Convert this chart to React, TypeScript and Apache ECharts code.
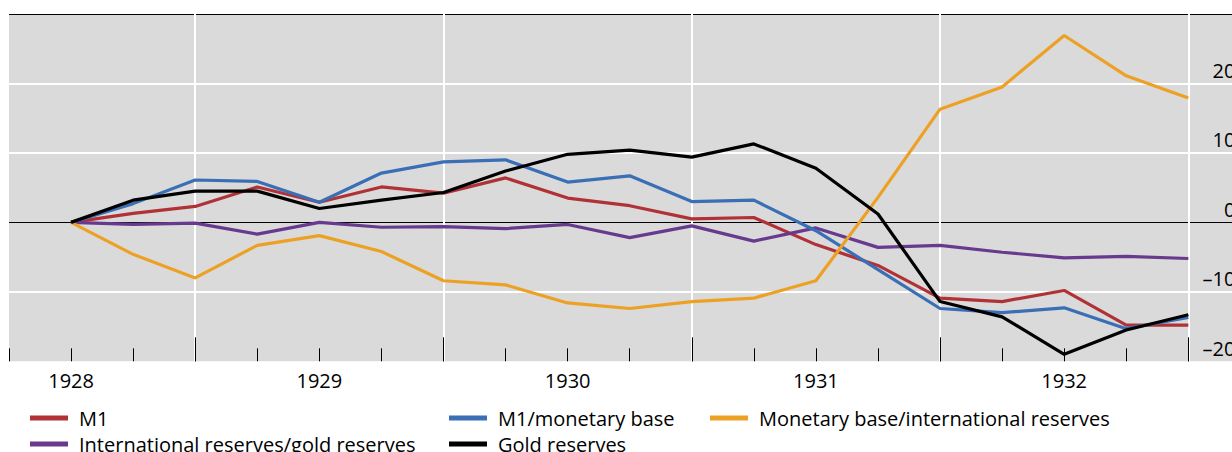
import React, { useEffect, useRef } from "react";
import * as echarts from "echarts";

const quarters = [
  "1927 Q4",
  "1928 Q1", "1928 Q2", "1928 Q3", "1928 Q4",
  "1929 Q1", "1929 Q2", "1929 Q3", "1929 Q4",
  "1930 Q1", "1930 Q2", "1930 Q3", "1930 Q4",
  "1931 Q1", "1931 Q2", "1931 Q3", "1931 Q4",
  "1932 Q1", "1932 Q2", "1932 Q3", "1932 Q4",
];

const m1 = [0, 1.3, 2.3, 5.1, 2.9, 5.1, 4.2, 6.4, 3.5, 2.4, 0.5, 0.7, -3.2, -6.2, -10.9, -11.4, -9.8, -14.8, -14.8];
const m1MonetaryBase = [0, 2.7, 6.1, 5.9, 2.9, 7.1, 8.7, 9.0, 5.8, 6.7, 3.0, 3.2, -1.2, -6.8, -12.4, -13.0, -12.3, -15.3, -13.7];
const monetaryBaseIntlReserves = [0, -4.6, -8.0, -3.3, -1.9, -4.2, -8.4, -9.0, -11.6, -12.4, -11.4, -10.9, -8.4, 3.6, 16.3, 19.5, 26.9, 21.1, 17.9];
const intlReservesGoldReserves = [0, -0.3, -0.1, -1.7, 0, -0.7, -0.6, -0.9, -0.3, -2.2, -0.5, -2.7, -0.8, -3.6, -3.3, -4.3, -5.1, -4.9, -5.2];
const goldReserves = [0, 3.2, 4.5, 4.5, 2.0, 3.2, 4.3, 7.4, 9.8, 10.4, 9.4, 11.3, 7.8, 1.2, -11.4, -13.6, -19.0, -15.5, -13.3];

const yTicks = [-20, -10, 0, 10, 20, 30];

const FONT = "'Open Sans', 'Noto Sans', sans-serif";

const seriesDefs = [
  { name: "M1", data: m1, color: "#B03236" },
  { name: "International reserves/gold reserves", data: intlReservesGoldReserves, color: "#673A8E" },
  { name: "M1/monetary base", data: m1MonetaryBase, color: "#3A6EB5" },
  { name: "Monetary base/international reserves", data: monetaryBaseIntlReserves, color: "#EDA124" },
  { name: "Gold reserves", data: goldReserves, color: "#000000" },
];

const legendPlacement: Record<string, { left: number; top: number }> = {
  "M1": { left: 30, top: 408 },
  "M1/monetary base": { left: 449, top: 408 },
  "Monetary base/international reserves": { left: 710, top: 408 },
  "International reserves/gold reserves": { left: 30, top: 434 },
  "Gold reserves": { left: 449, top: 434 },
};

const CHART_W = 1262;

export default function App() {
  const ref = useRef<HTMLDivElement>(null);

  useEffect(() => {
    if (!ref.current) return;
    const chart = echarts.init(ref.current, null, { renderer: "svg" });
    const pad = (arr: number[]) => [null, ...arr, null];

    const option: any = {
      animation: false,
      backgroundColor: "#ffffff",
      grid: {
        left: 9,
        top: 14,
        right: CHART_W - 1250.4,
        bottom: 452 - 361.3,
        show: true,
        backgroundColor: "#DADADA",
        borderWidth: 0,
      },
      legend: seriesDefs.map((s) => ({
        data: [s.name],
        left: legendPlacement[s.name].left,
        top: legendPlacement[s.name].top,
        padding: 0,
        icon: "rect",
        itemWidth: 38,
        itemHeight: 5,
        selectedMode: false,
        textStyle: { fontSize: 20, color: "#000", fontFamily: FONT, padding: [0, 0, 0, 6] },
      })),
      xAxis: [
        {
          type: "category",
          data: quarters,
          boundaryGap: false,
          position: "bottom",
          axisLine: { show: false, onZero: false },
          axisTick: { show: true, inside: true, length: 13, interval: 0, lineStyle: { color: "#000", width: 1 } },
          axisLabel: {
            show: true,
            interval: (idx: number) => idx % 4 === 1,
            formatter: (v: string) => v.slice(0, 4),
            fontSize: 20,
            color: "#000",
            fontFamily: FONT,
            margin: 9,
          },
          splitLine: { show: false },
        },
        {
          type: "category",
          data: quarters,
          boundaryGap: false,
          position: "bottom",
          axisLine: { show: false, onZero: false },
          axisTick: {
            show: true,
            inside: true,
            length: 24,
            interval: (idx: number) => idx % 4 === 3,
            lineStyle: { color: "#000", width: 1 },
          },
          axisLabel: { show: false },
          splitLine: {
            show: true,
            interval: (idx: number) => idx % 4 === 3,
            lineStyle: { color: "#ffffff", width: 2 },
          },
        },
      ],
      yAxis: [
        {
          type: "value",
          position: "right",
          min: yTicks[0],
          max: yTicks[yTicks.length - 1],
          interval: 10,
          axisLine: { show: false, onZero: false },
          axisTick: { show: false },
          axisLabel: {
            inside: true,
            margin: 15,
            fontSize: 20,
            color: "#000",
            fontFamily: FONT,
            verticalAlign: "bottom",
            lineHeight: 20,
            padding: [0, 0, 3, 0],
            formatter: (v: number) => (v === 30 ? "" : v < 0 ? "\u2013" + Math.abs(v) : String(v)),
          },
          splitLine: {
            show: true,
            lineStyle: {
              color: ["transparent", "#ffffff", "transparent", "#ffffff", "#ffffff", "transparent"],
              width: 2,
            },
          },
        },
        {
          type: "value",
          position: "left",
          min: yTicks[0],
          max: yTicks[yTicks.length - 1],
          interval: 10,
          axisLine: { show: false, onZero: false },
          axisTick: { show: false },
          axisLabel: { show: false },
          splitLine: {
            show: true,
            lineStyle: {
              color: ["transparent", "transparent", "#000000", "transparent", "transparent", "#000000"],
              width: 1,
            },
          },
        },
      ],
      series: seriesDefs.map((s) => ({
        name: s.name,
        type: "line",
        xAxisIndex: 0,
        yAxisIndex: 0,
        data: pad(s.data),
        symbol: "none",
        showSymbol: false,
        connectNulls: false,
        color: s.color,
        lineStyle: { color: s.color, width: 3.2 },
        itemStyle: { color: s.color },
        emphasis: { disabled: true },
      })),
    };

    chart.setOption(option);
    return () => chart.dispose();
  }, []);

  return (
    <div
      style={{ position: "absolute", left: 0, top: 0, width: 1232, height: 452, overflow: "hidden", background: "#fff" }}
    >
      <div ref={ref} style={{ width: CHART_W, height: 452 }} />
    </div>
  );
}
